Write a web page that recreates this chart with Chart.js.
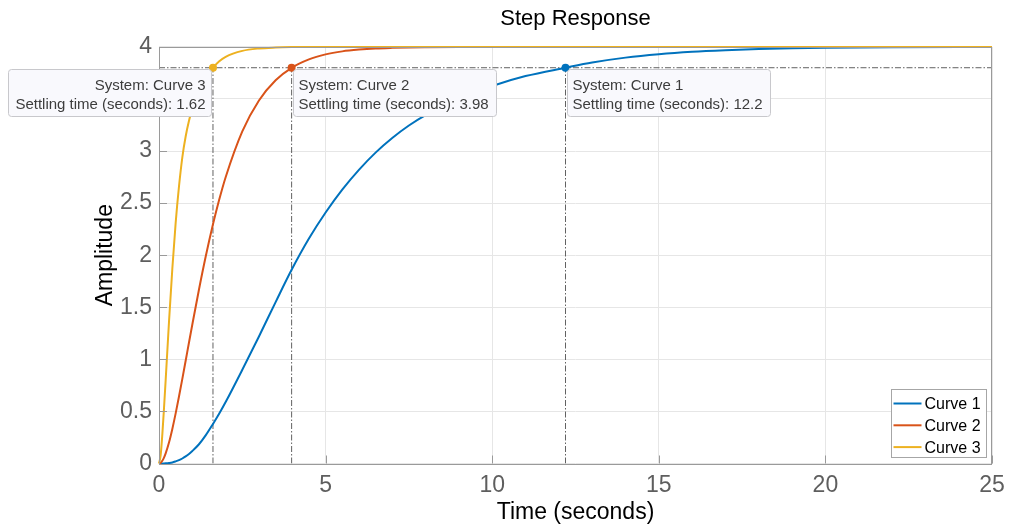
<!DOCTYPE html>
<html><head><meta charset="utf-8">
<script src="https://cdn.jsdelivr.net/npm/chart.js@4.4.1/dist/chart.umd.min.js"></script>
<style>html,body{margin:0;padding:0;background:#fff}#wrap{width:1014px;height:530px}</style>
</head><body><div id="wrap"><canvas id="c" width="1014" height="530"></canvas></div>
<script>
// ---------- data ----------
const seriesNames = ['Curve 1', 'Curve 2', 'Curve 3'];
const timeSec = [0,0.05,0.1,0.15,0.2,0.3,0.4,0.5,0.6,0.7,0.8,0.9,1.0,1.2,1.4,1.62,1.8,2.0,2.5,3.0,3.5,3.98,4.5,5,5.5,6,6.5,7,7.5,8,9,10,11,12.2,13,14,15,16,17,18,19,20,22,25];
const curve1 = [0,0,0.0005,0.001,0.002,0.005,0.01,0.02,0.032,0.048,0.068,0.092,0.12,0.185,0.27,0.38,0.475,0.59,0.90,1.22,1.55,1.86,2.16,2.41,2.63,2.82,2.985,3.125,3.245,3.345,3.505,3.625,3.72,3.80,3.85,3.897,3.93,3.953,3.968,3.979,3.986,3.991,3.996,3.999];
const curve2 = [0,0.007,0.026,0.056,0.097,0.201,0.332,0.481,0.643,0.813,0.987,1.162,1.335,1.671,1.985,2.297,2.525,2.749,3.189,3.486,3.680,3.799,3.880,3.928,3.957,3.974,3.985,3.991,3.995,3.997,3.999,4,4,4,4,4,4,4,4,4,4,4,4,4];
const curve3 = [0,0.08,0.28,0.53,0.80,1.36,1.87,2.31,2.66,2.94,3.14,3.29,3.41,3.58,3.71,3.80,3.86,3.905,3.962,3.985,3.994,3.998,3.999,4,4,4,4,4,4,4,4,4,4,4,4,4,4,4,4,4,4,4,4,4];
const settlingTimes = [12.2, 3.98, 1.62];
const settlingLevel = 3.8;
const xTickValues = [0, 5, 10, 15, 20, 25];
const yTickValues = [0, 0.5, 1, 1.5, 2, 2.5, 3, 3.5, 4];

// ---------- style ----------
const FONT = "'Liberation Sans', Arial, Helvetica, sans-serif";
const colors = ['#0072BD', '#D95319', '#EDB120'];
const tipSide = ['right', 'right', 'left'];

const pts = ys => timeSec.map((t, i) => ({x: t, y: ys[i]}));
const guideStyle = {borderColor: 'rgba(70,70,70,0.85)', borderWidth: 1, borderDash: [6, 2, 1.5, 2], pointRadius: 0, fill: false, order: 10, tension: 0};

const datasets = [];
[curve1, curve2, curve3].forEach((ys, i) => datasets.push({
  label: seriesNames[i], data: pts(ys), borderColor: colors[i], backgroundColor: colors[i],
  borderWidth: 2, pointRadius: 0, cubicInterpolationMode: 'monotone', fill: false, order: 3 - i, clip: 4
}));
datasets.push(Object.assign({label: 'level', data: [{x: xTickValues[0], y: settlingLevel}, {x: xTickValues[xTickValues.length - 1], y: settlingLevel}]}, guideStyle));
settlingTimes.forEach((t, i) => datasets.push(Object.assign({label: 'ts' + i, data: [{x: t, y: 0}, {x: t, y: settlingLevel}]}, guideStyle)));
datasets.push({label: 'marks', data: settlingTimes.map(t => ({x: t, y: settlingLevel})), showLine: false,
  pointRadius: 4, pointHoverRadius: 4, pointBackgroundColor: colors, pointBorderColor: colors, pointBorderWidth: 0, order: 0, clip: 6});

const overlay = {
  id: 'overlay',
  afterDraw(chart) {
    const {ctx, chartArea: a, scales: {x, y}} = chart;
    ctx.save();
    // axes box
    ctx.strokeStyle = '#9a9a9a'; ctx.lineWidth = 1;
    ctx.strokeRect(Math.round(a.left) + 0.5, Math.round(a.top) + 0.5, Math.round(a.right - a.left) - 1, Math.round(a.bottom - a.top));
    // inward ticks
    ctx.beginPath();
    xTickValues.forEach(v => { const px = Math.round(x.getPixelForValue(v)) + 0.5; ctx.moveTo(px, a.bottom); ctx.lineTo(px, a.bottom - 8); });
    yTickValues.forEach(v => { const py = Math.round(y.getPixelForValue(v)) + 0.5; ctx.moveTo(a.left, py); ctx.lineTo(a.left + 8, py); });
    ctx.stroke();
    // data tips
    ctx.font = '15px ' + FONT;
    settlingTimes.forEach((t, i) => {
      const px = x.getPixelForValue(t), py = y.getPixelForValue(settlingLevel);
      const lines = ['System: ' + seriesNames[i], 'Settling time (seconds): ' + t];
      const w = Math.ceil(Math.max(...lines.map(s => ctx.measureText(s).width))) + 12;
      const h = 47;
      const left = tipSide[i] === 'right';
      const x0 = left ? Math.round(px) + 1.5 : Math.round(px) - 1.5 - w;
      const y0 = Math.round(py) + 1.5;
      ctx.beginPath();
      ctx.roundRect(x0, y0, w, h, 3);
      ctx.fillStyle = '#f9f9fd'; ctx.fill();
      ctx.strokeStyle = '#c8c8cc'; ctx.stroke();
      ctx.fillStyle = '#3c3c3c';
      ctx.textBaseline = 'alphabetic';
      ctx.textAlign = left ? 'left' : 'right';
      const tx = left ? x0 + 5 : x0 + w - 6;
      ctx.fillText(lines[0], tx, y0 + 20);
      ctx.fillText(lines[1], tx, y0 + 39.5);
    });
    // legend
    const lw = 95, lh = 68;
    const lx = Math.round(a.right) - 6 - lw + 0.5, ly = Math.round(a.bottom) - 7 - lh + 0.5;
    ctx.fillStyle = '#ffffff'; ctx.fillRect(lx, ly, lw, lh);
    ctx.strokeStyle = '#a6a6a6'; ctx.lineWidth = 1; ctx.strokeRect(lx, ly, lw, lh);
    ctx.font = '16px ' + FONT; ctx.textAlign = 'left'; ctx.textBaseline = 'middle';
    seriesNames.forEach((n, i) => {
      const cy = ly + 14 + i * 21.8;
      ctx.strokeStyle = colors[i]; ctx.lineWidth = 2;
      ctx.beginPath(); ctx.moveTo(lx + 2, cy); ctx.lineTo(lx + 30, cy); ctx.stroke();
      ctx.fillStyle = '#000'; ctx.fillText(n, lx + 33, cy + 1);
    });
    ctx.restore();
  }
};

new Chart(document.getElementById('c'), {
  type: 'line',
  data: {datasets},
  options: {
    responsive: false, animation: false, devicePixelRatio: 1,
    layout: {padding: {left: 0, right: 22, top: 0, bottom: 0}},
    plugins: {
      legend: {display: false}, tooltip: {enabled: false},
      title: {display: true, text: 'Step Response', fullSize: false, color: '#000',
        font: {family: FONT, size: 22, weight: 'normal'}, padding: {top: 5.5, bottom: 15}}
    },
    scales: {
      x: {type: 'linear', min: 0, max: 25,
        afterFit: s => { s.height = 66.5; },
        afterBuildTicks: s => { s.ticks = xTickValues.map(v => ({value: v})); },
        grid: {color: '#e6e6e6', drawTicks: false}, border: {display: false},
        ticks: {color: '#5e5e5e', font: {family: FONT, size: 23}, padding: 8, maxRotation: 0, callback: v => String(v)},
        title: {display: true, text: 'Time (seconds)', color: '#000', font: {family: FONT, size: 23}, padding: {top: 0, bottom: 4}}},
      y: {type: 'linear', min: 0, max: 4,
        afterFit: s => { s.width = 159; },
        afterBuildTicks: s => { s.ticks = yTickValues.map(v => ({value: v})); },
        grid: {color: '#e6e6e6', drawTicks: false}, border: {display: false},
        ticks: {color: '#5e5e5e', font: {family: FONT, size: 23}, padding: 7, callback: v => String(v)},
        title: {display: true, text: 'Amplitude', color: '#000', font: {family: FONT, size: 23}, padding: {top: 92, bottom: 0}}}
    }
  },
  plugins: [overlay]
});
</script></body></html>
